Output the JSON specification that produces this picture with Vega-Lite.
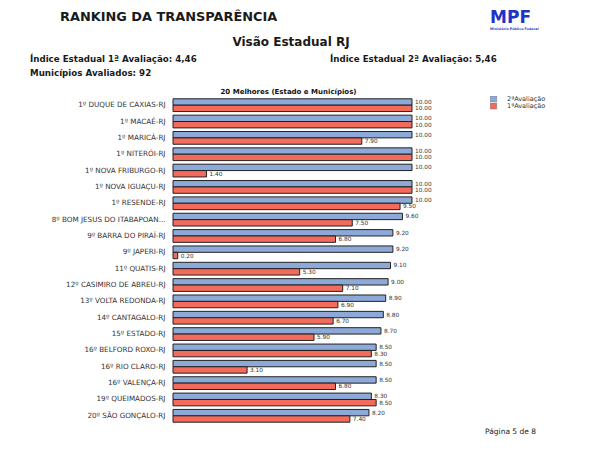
{
  "$schema": "https://vega.github.io/schema/vega-lite/v6.json",
  "autosize": {"type": "none"},
  "width": 239,
  "height": 327,
  "padding": {"left": 173, "top": 97, "right": 188, "bottom": 26},
  "background": "white",
  "config": {"view": {"stroke": null}, "font": "DejaVu Sans"},
  "layer": [
    {
      "data": {"values": [
        {"name": "1º DUQUE DE CAXIAS-RJ", "eval": "2ªAvaliação", "value": 10.0},
        {"name": "1º DUQUE DE CAXIAS-RJ", "eval": "1ªAvaliação", "value": 10.0},
        {"name": "1º MACAÉ-RJ", "eval": "2ªAvaliação", "value": 10.0},
        {"name": "1º MACAÉ-RJ", "eval": "1ªAvaliação", "value": 10.0},
        {"name": "1º MARICÁ-RJ", "eval": "2ªAvaliação", "value": 10.0},
        {"name": "1º MARICÁ-RJ", "eval": "1ªAvaliação", "value": 7.9},
        {"name": "1º NITERÓI-RJ", "eval": "2ªAvaliação", "value": 10.0},
        {"name": "1º NITERÓI-RJ", "eval": "1ªAvaliação", "value": 10.0},
        {"name": "1º NOVA FRIBURGO-RJ", "eval": "2ªAvaliação", "value": 10.0},
        {"name": "1º NOVA FRIBURGO-RJ", "eval": "1ªAvaliação", "value": 1.4},
        {"name": "1º NOVA IGUAÇU-RJ", "eval": "2ªAvaliação", "value": 10.0},
        {"name": "1º NOVA IGUAÇU-RJ", "eval": "1ªAvaliação", "value": 10.0},
        {"name": "1º RESENDE-RJ", "eval": "2ªAvaliação", "value": 10.0},
        {"name": "1º RESENDE-RJ", "eval": "1ªAvaliação", "value": 9.5},
        {"name": "8º BOM JESUS DO ITABAPOAN...", "eval": "2ªAvaliação", "value": 9.6},
        {"name": "8º BOM JESUS DO ITABAPOAN...", "eval": "1ªAvaliação", "value": 7.5},
        {"name": "9º BARRA DO PIRAÍ-RJ", "eval": "2ªAvaliação", "value": 9.2},
        {"name": "9º BARRA DO PIRAÍ-RJ", "eval": "1ªAvaliação", "value": 6.8},
        {"name": "9º JAPERI-RJ", "eval": "2ªAvaliação", "value": 9.2},
        {"name": "9º JAPERI-RJ", "eval": "1ªAvaliação", "value": 0.2},
        {"name": "11º QUATIS-RJ", "eval": "2ªAvaliação", "value": 9.1},
        {"name": "11º QUATIS-RJ", "eval": "1ªAvaliação", "value": 5.3},
        {"name": "12º CASIMIRO DE ABREU-RJ", "eval": "2ªAvaliação", "value": 9.0},
        {"name": "12º CASIMIRO DE ABREU-RJ", "eval": "1ªAvaliação", "value": 7.1},
        {"name": "13º VOLTA REDONDA-RJ", "eval": "2ªAvaliação", "value": 8.9},
        {"name": "13º VOLTA REDONDA-RJ", "eval": "1ªAvaliação", "value": 6.9},
        {"name": "14º CANTAGALO-RJ", "eval": "2ªAvaliação", "value": 8.8},
        {"name": "14º CANTAGALO-RJ", "eval": "1ªAvaliação", "value": 6.7},
        {"name": "15º ESTADO-RJ", "eval": "2ªAvaliação", "value": 8.7},
        {"name": "15º ESTADO-RJ", "eval": "1ªAvaliação", "value": 5.9},
        {"name": "16º BELFORD ROXO-RJ", "eval": "2ªAvaliação", "value": 8.5},
        {"name": "16º BELFORD ROXO-RJ", "eval": "1ªAvaliação", "value": 8.3},
        {"name": "16º RIO CLARO-RJ", "eval": "2ªAvaliação", "value": 8.5},
        {"name": "16º RIO CLARO-RJ", "eval": "1ªAvaliação", "value": 3.1},
        {"name": "16º VALENÇA-RJ", "eval": "2ªAvaliação", "value": 8.5},
        {"name": "16º VALENÇA-RJ", "eval": "1ªAvaliação", "value": 6.8},
        {"name": "19º QUEIMADOS-RJ", "eval": "2ªAvaliação", "value": 8.3},
        {"name": "19º QUEIMADOS-RJ", "eval": "1ªAvaliação", "value": 8.5},
        {"name": "20º SÃO GONÇALO-RJ", "eval": "2ªAvaliação", "value": 8.2},
        {"name": "20º SÃO GONÇALO-RJ", "eval": "1ªAvaliação", "value": 7.4}
      ]},
      "layer": [
        {
          "mark": {"type": "bar", "stroke": "#222222", "strokeWidth": 1},
          "encoding": {
            "y": {"field": "name", "type": "nominal", "sort": null,
                  "scale": {"paddingInner": 0.22, "paddingOuter": 0.11},
                  "axis": {"title": null, "ticks": false, "domain": false, "grid": false,
                           "labelFontSize": 7.2, "labelColor": "#333333", "labelPadding": 8, "labelLimit": 0}},
            "yOffset": {"field": "eval", "type": "nominal", "sort": ["2ªAvaliação", "1ªAvaliação"], "scale": {"paddingInner": 0}},
            "x": {"field": "value", "type": "quantitative", "scale": {"domain": [0, 10], "nice": false},
                  "axis": {"orient": "top", "labels": false, "ticks": false, "domain": false, "grid": false,
                           "title": "20 Melhores (Estado e Municípios)", "titleFontSize": 7, "titleFontWeight": "bold",
                           "titleColor": "#111111", "titlePadding": 3, "titleX": 115}},
            "color": {"field": "eval", "type": "nominal",
                      "scale": {"domain": ["2ªAvaliação", "1ªAvaliação"], "range": ["#8da9d8", "#f26b5b"]},
                      "legend": {"orient": "none", "legendX": 317, "legendY": -1, "title": null,
                                 "symbolType": "square", "symbolSize": 40, "symbolStrokeColor": "#555555",
                                 "symbolStrokeWidth": 0.4, "labelFontSize": 6.5, "labelColor": "#333333",
                                 "rowPadding": 0, "clipHeight": 6, "labelOffset": 10}}
          }
        },
        {
          "mark": {"type": "text", "align": "left", "baseline": "middle", "dx": 3, "fontSize": 5.8, "color": "#333333"},
          "encoding": {
            "y": {"field": "name", "type": "nominal", "sort": null},
            "yOffset": {"field": "eval", "type": "nominal", "sort": ["2ªAvaliação", "1ªAvaliação"]},
            "x": {"field": "value", "type": "quantitative"},
            "text": {"field": "value", "type": "quantitative", "format": ".2f"}
          }
        }
      ]
    },
    {
      "data": {"values": [{"label": "RANKING DA TRANSPARÊNCIA"}]},
      "mark": {"type": "text", "align": "left", "baseline": "middle", "fontSize": 12.9, "fontWeight": "bold", "color": "#1a1a1a"},
      "encoding": {
        "x": {"datum": 60, "type": "quantitative", "scale": {"domain": [0, 600], "range": [-173, 427], "nice": false, "zero": false}, "axis": null},
        "y": {"datum": 17, "type": "quantitative", "scale": {"domain": [0, 450], "range": [-97, 353], "nice": false, "zero": false}, "axis": null},
        "text": {"field": "label"}
      }
    },
    {
      "data": {"values": [{"label": "MPF"}]},
      "mark": {"type": "text", "align": "left", "baseline": "middle", "fontSize": 17, "fontWeight": "bold", "color": "#1f33c8"},
      "encoding": {
        "x": {"datum": 490, "type": "quantitative", "scale": {"domain": [0, 600], "range": [-173, 427], "nice": false, "zero": false}, "axis": null},
        "y": {"datum": 17.5, "type": "quantitative", "scale": {"domain": [0, 450], "range": [-97, 353], "nice": false, "zero": false}, "axis": null},
        "text": {"field": "label"}
      }
    },
    {
      "data": {"values": [{"label": "Ministério Público Federal"}]},
      "mark": {"type": "text", "align": "left", "baseline": "middle", "fontSize": 3.3, "fontWeight": "bold", "color": "#1f33c8"},
      "encoding": {
        "x": {"datum": 490, "type": "quantitative", "scale": {"domain": [0, 600], "range": [-173, 427], "nice": false, "zero": false}, "axis": null},
        "y": {"datum": 28.5, "type": "quantitative", "scale": {"domain": [0, 450], "range": [-97, 353], "nice": false, "zero": false}, "axis": null},
        "text": {"field": "label"}
      }
    },
    {
      "data": {"values": [{"label": "Visão Estadual RJ"}]},
      "mark": {"type": "text", "align": "center", "baseline": "middle", "fontSize": 12, "fontWeight": "bold", "color": "#1a1a1a"},
      "encoding": {
        "x": {"datum": 291, "type": "quantitative", "scale": {"domain": [0, 600], "range": [-173, 427], "nice": false, "zero": false}, "axis": null},
        "y": {"datum": 42, "type": "quantitative", "scale": {"domain": [0, 450], "range": [-97, 353], "nice": false, "zero": false}, "axis": null},
        "text": {"field": "label"}
      }
    },
    {
      "data": {"values": [{"label": "Índice Estadual 1ª Avaliação: 4,46"}]},
      "mark": {"type": "text", "align": "left", "baseline": "middle", "fontSize": 8.7, "fontWeight": "bold", "color": "#1a1a1a"},
      "encoding": {
        "x": {"datum": 30, "type": "quantitative", "scale": {"domain": [0, 600], "range": [-173, 427], "nice": false, "zero": false}, "axis": null},
        "y": {"datum": 59, "type": "quantitative", "scale": {"domain": [0, 450], "range": [-97, 353], "nice": false, "zero": false}, "axis": null},
        "text": {"field": "label"}
      }
    },
    {
      "data": {"values": [{"label": "Índice Estadual 2ª Avaliação: 5,46"}]},
      "mark": {"type": "text", "align": "left", "baseline": "middle", "fontSize": 8.7, "fontWeight": "bold", "color": "#1a1a1a"},
      "encoding": {
        "x": {"datum": 330, "type": "quantitative", "scale": {"domain": [0, 600], "range": [-173, 427], "nice": false, "zero": false}, "axis": null},
        "y": {"datum": 59, "type": "quantitative", "scale": {"domain": [0, 450], "range": [-97, 353], "nice": false, "zero": false}, "axis": null},
        "text": {"field": "label"}
      }
    },
    {
      "data": {"values": [{"label": "Municípios Avaliados: 92"}]},
      "mark": {"type": "text", "align": "left", "baseline": "middle", "fontSize": 8.7, "fontWeight": "bold", "color": "#1a1a1a"},
      "encoding": {
        "x": {"datum": 30, "type": "quantitative", "scale": {"domain": [0, 600], "range": [-173, 427], "nice": false, "zero": false}, "axis": null},
        "y": {"datum": 73, "type": "quantitative", "scale": {"domain": [0, 450], "range": [-97, 353], "nice": false, "zero": false}, "axis": null},
        "text": {"field": "label"}
      }
    },
    {
      "data": {"values": [{"label": "Página 5 de 8"}]},
      "mark": {"type": "text", "align": "left", "baseline": "middle", "fontSize": 7.5, "color": "#222222"},
      "encoding": {
        "x": {"datum": 485, "type": "quantitative", "scale": {"domain": [0, 600], "range": [-173, 427], "nice": false, "zero": false}, "axis": null},
        "y": {"datum": 432, "type": "quantitative", "scale": {"domain": [0, 450], "range": [-97, 353], "nice": false, "zero": false}, "axis": null},
        "text": {"field": "label"}
      }
    }
  ],
  "resolve": {"scale": {"x": "independent", "y": "independent", "color": "independent"}}
}
